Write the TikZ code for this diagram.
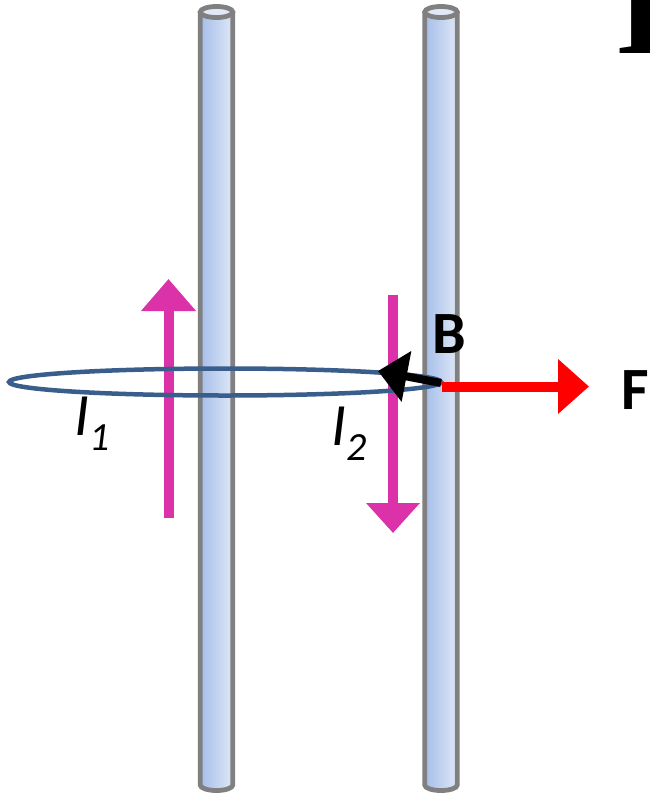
\documentclass[tikz,border=0pt]{standalone}
\usepackage{fontspec}
\setmainfont{Carlito}
\newfontfamily\serifbold{Liberation Serif}[BoldFont={* Bold}]
\usetikzlibrary{arrows.meta}
\definecolor{rodgray}{RGB}{128,128,128}
\definecolor{rodL}{RGB}{166,190,234}
\definecolor{rodR}{RGB}{222,231,245}
\definecolor{rodtop}{RGB}{225,232,246}
\definecolor{loopblue}{RGB}{57,94,140}
\definecolor{curmag}{RGB}{219,50,170}
\definecolor{forcered}{RGB}{255,0,0}
\tikzset{
  rodpic/.pic={
    \fill[left color=rodL, right color=rodR] (-16.25,12) -- (-16.25,785)
      arc[start angle=180,end angle=0,x radius=16.25,y radius=5.5] -- (16.25,12) -- cycle;
    \draw[rodgray, line width=4.8pt] (-16.25,12) -- (-16.25,785)
      arc[start angle=180,end angle=0,x radius=16.25,y radius=5.5] -- (16.25,12);
    \draw[rodgray, line width=4.8pt, fill=rodtop] (0,12) ellipse[x radius=16.25, y radius=5.5];
  },
  current/.style={curmag, line width=10pt},
  lbl/.style={inner sep=0pt, font=\fontsize{60}{60}\selectfont\bfseries},
  ilbl/.style={inner sep=0pt, anchor=base west, font=\fontsize{60}{60}\selectfont\itshape},
}
\newcommand{\subnum}[1]{\raisebox{-15pt}{\fontsize{40}{40}\selectfont #1}}
\begin{document}
\begin{tikzpicture}[x=1pt,y=-1pt]
\useasboundingbox (0,0) rectangle (650,793);
% rods
\pic at (216.5,0) {rodpic};
\pic at (441,0) {rodpic};
% currents
\coordinate (c1s) at (168.5,518);
\coordinate (c1e) at (168.5,279);
\coordinate (c2s) at (393,295);
\coordinate (c2e) at (393,533);
\draw[current, -{Triangle[length=32pt,width=53pt]}] (c1s) -- (c1e);
\draw[current, -{Triangle[length=30pt,width=52pt]}] (c2s) -- (c2e);
% field loop
\draw[loopblue, line width=4.5pt] (225,382) ellipse[x radius=216, y radius=13.5];
% force
\coordinate (Fs) at (442,386.5);
\coordinate (Fe) at (589,386.5);
\draw[forcered, line width=10pt, -{Triangle[length=31pt,width=53pt]}] (Fs) -- (Fe);
% field arrow
\coordinate (Bs) at (441,383);
\coordinate (Be) at (378,371);
\draw[black, line width=8pt, -{Triangle[length=29pt,width=50pt]}] (Bs) -- (Be);
% labels
\node[lbl] (B) at (449,334) {B};
\node[lbl] (F) at (635,390) {F};
\node[ilbl] (I1) at (74,435) {I\subnum{1}};
\node[ilbl] (I2) at (331,445) {I\subnum{2}};
\node[inner sep=0pt, anchor=base west, font=\serifbold\bfseries\fontsize{137}{137}\selectfont] (T) at (615,53) {I};
\end{tikzpicture}
\end{document}
